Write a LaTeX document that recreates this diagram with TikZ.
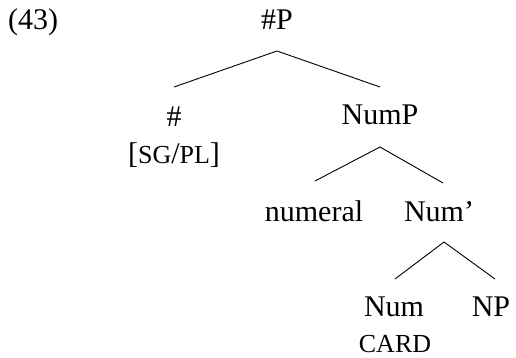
\documentclass[tikz,border=0pt]{standalone}
\usepackage{fontspec}
\setmainfont{Liberation Serif}
\usetikzlibrary{calc}
\newcommand{\smc}[1]{{\fontsize{26}{30}\selectfont #1}}
\tikzset{
  lab/.style={inner sep=0pt, anchor=base, font=\fontsize{30}{34}\selectfont},
  branch/.style={line width=0.9pt}
}
\begin{document}
\begin{tikzpicture}[x=1pt,y=-1pt]
\useasboundingbox (0,0) rectangle (516,358);
\node[lab, anchor=base west] (ex) at (8,30) {(43)};
\node[lab] (P) at (277,30) {\#P};
\node[lab] (hash) at (174,127) {\#};
\node[lab] (sgpl) at (174,164) {[\smc{SG}/\smc{PL}]};
\node[lab] (NumP) at (380,125) {NumP};
\node[lab] (numeral) at (314,221) {numeral};
\node[lab] (Numbar) at (439,221) {Num’};
\node[lab] (Num) at (394,316) {Num};
\node[lab] (NP) at (491,316) {NP};
\node[lab] (card) at (395,352) {\smc{CARD}};
\draw[branch] ($(hash.base)+(0,-40)$) -- ($(P.base)+(0,21)$) -- ($(NumP.base)+(0,-38)$);
\draw[branch] ($(numeral.base)+(1,-40)$) -- ($(NumP.base)+(0,22)$) -- ($(Numbar.base)+(4,-38)$);
\draw[branch] ($(Num.base)+(1,-37)$) -- ($(Numbar.base)+(5,21)$) -- ($(NP.base)+(4,-37)$);
\end{tikzpicture}
\end{document}
